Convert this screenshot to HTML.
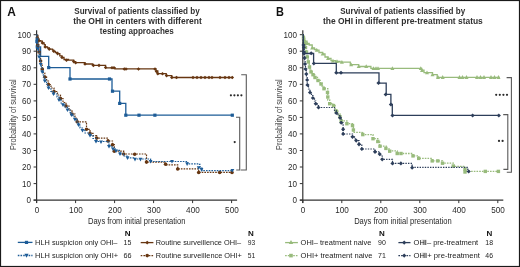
<!DOCTYPE html><html><head><meta charset="utf-8"><style>html,body{margin:0;padding:0;background:#fff;width:520px;height:267px;overflow:hidden}svg{display:block;font-family:"Liberation Sans",sans-serif;will-change:transform}</style></head><body>
<svg width="520" height="267" viewBox="0 0 520 267">
<rect x="0" y="0" width="520" height="267" fill="#fff"/>
<rect x="0.5" y="0.5" width="519" height="266" fill="none" stroke="#1a1a1a" stroke-width="1.2"/>
<text x="7.3" y="15.6" font-size="12.30" text-anchor="start" font-weight="bold" fill="#111" textLength="8.6" lengthAdjust="spacingAndGlyphs" >A</text>
<text x="276.0" y="15.7" font-size="12.30" text-anchor="start" font-weight="bold" fill="#111" textLength="7.9" lengthAdjust="spacingAndGlyphs" >B</text>
<text x="137.0" y="13.8" font-size="8.50" text-anchor="middle" font-weight="bold" fill="#303030" textLength="125.5" lengthAdjust="spacingAndGlyphs" >Survival of patients classified by</text>
<text x="137.5" y="23.8" font-size="8.50" text-anchor="middle" font-weight="bold" fill="#303030" textLength="128.5" lengthAdjust="spacingAndGlyphs" >the OHI in centers with different</text>
<text x="136.8" y="33.7" font-size="8.50" text-anchor="middle" font-weight="bold" fill="#303030" textLength="74.0" lengthAdjust="spacingAndGlyphs" >testing approaches</text>
<text x="402.7" y="13.9" font-size="8.50" text-anchor="middle" font-weight="bold" fill="#303030" textLength="125.0" lengthAdjust="spacingAndGlyphs" >Survival of patients classified by</text>
<text x="402.9" y="23.6" font-size="8.50" text-anchor="middle" font-weight="bold" fill="#303030" textLength="159.8" lengthAdjust="spacingAndGlyphs" >the OHI in different pre-treatment status</text>
<path d="M36.6 30.3 V203" stroke="#333333" stroke-width="1.2" fill="none"/>
<path d="M33.6 200.1 H237.1" stroke="#333333" stroke-width="1.25" fill="none"/>
<path d="M33.6 200.1 H36.6" stroke="#333333" stroke-width="1" fill="none"/>
<text x="31.0" y="203.2" font-size="9.00" text-anchor="end" font-weight="normal" fill="#2a2a2a" textLength="4.5" lengthAdjust="spacingAndGlyphs" >0</text>
<path d="M33.6 183.6 H36.6" stroke="#333333" stroke-width="1" fill="none"/>
<text x="31.0" y="186.7" font-size="9.00" text-anchor="end" font-weight="normal" fill="#2a2a2a" textLength="9.0" lengthAdjust="spacingAndGlyphs" >10</text>
<path d="M33.6 167.0 H36.6" stroke="#333333" stroke-width="1" fill="none"/>
<text x="31.0" y="170.1" font-size="9.00" text-anchor="end" font-weight="normal" fill="#2a2a2a" textLength="9.0" lengthAdjust="spacingAndGlyphs" >20</text>
<path d="M33.6 150.5 H36.6" stroke="#333333" stroke-width="1" fill="none"/>
<text x="31.0" y="153.6" font-size="9.00" text-anchor="end" font-weight="normal" fill="#2a2a2a" textLength="9.0" lengthAdjust="spacingAndGlyphs" >30</text>
<path d="M33.6 133.9 H36.6" stroke="#333333" stroke-width="1" fill="none"/>
<text x="31.0" y="137.0" font-size="9.00" text-anchor="end" font-weight="normal" fill="#2a2a2a" textLength="9.0" lengthAdjust="spacingAndGlyphs" >40</text>
<path d="M33.6 117.4 H36.6" stroke="#333333" stroke-width="1" fill="none"/>
<text x="31.0" y="120.5" font-size="9.00" text-anchor="end" font-weight="normal" fill="#2a2a2a" textLength="9.0" lengthAdjust="spacingAndGlyphs" >50</text>
<path d="M33.6 100.9 H36.6" stroke="#333333" stroke-width="1" fill="none"/>
<text x="31.0" y="104.0" font-size="9.00" text-anchor="end" font-weight="normal" fill="#2a2a2a" textLength="9.0" lengthAdjust="spacingAndGlyphs" >60</text>
<path d="M33.6 84.3 H36.6" stroke="#333333" stroke-width="1" fill="none"/>
<text x="31.0" y="87.4" font-size="9.00" text-anchor="end" font-weight="normal" fill="#2a2a2a" textLength="9.0" lengthAdjust="spacingAndGlyphs" >70</text>
<path d="M33.6 67.8 H36.6" stroke="#333333" stroke-width="1" fill="none"/>
<text x="31.0" y="70.9" font-size="9.00" text-anchor="end" font-weight="normal" fill="#2a2a2a" textLength="9.0" lengthAdjust="spacingAndGlyphs" >80</text>
<path d="M33.6 51.2 H36.6" stroke="#333333" stroke-width="1" fill="none"/>
<text x="31.0" y="54.3" font-size="9.00" text-anchor="end" font-weight="normal" fill="#2a2a2a" textLength="9.0" lengthAdjust="spacingAndGlyphs" >90</text>
<path d="M33.6 34.7 H36.6" stroke="#333333" stroke-width="1" fill="none"/>
<text x="31.0" y="37.8" font-size="9.00" text-anchor="end" font-weight="normal" fill="#2a2a2a" textLength="13.5" lengthAdjust="spacingAndGlyphs" >100</text>
<path d="M36.6 200.1 V203.1" stroke="#333333" stroke-width="1" fill="none"/>
<text x="36.9" y="212.7" font-size="9.30" text-anchor="middle" font-weight="normal" fill="#2a2a2a" textLength="4.5" lengthAdjust="spacingAndGlyphs" >0</text>
<path d="M75.6 200.1 V203.1" stroke="#333333" stroke-width="1" fill="none"/>
<text x="75.9" y="212.7" font-size="9.30" text-anchor="middle" font-weight="normal" fill="#2a2a2a" textLength="13.6" lengthAdjust="spacingAndGlyphs" >100</text>
<path d="M114.6 200.1 V203.1" stroke="#333333" stroke-width="1" fill="none"/>
<text x="114.9" y="212.7" font-size="9.30" text-anchor="middle" font-weight="normal" fill="#2a2a2a" textLength="13.6" lengthAdjust="spacingAndGlyphs" >200</text>
<path d="M153.6 200.1 V203.1" stroke="#333333" stroke-width="1" fill="none"/>
<text x="153.9" y="212.7" font-size="9.30" text-anchor="middle" font-weight="normal" fill="#2a2a2a" textLength="13.6" lengthAdjust="spacingAndGlyphs" >300</text>
<path d="M192.6 200.1 V203.1" stroke="#333333" stroke-width="1" fill="none"/>
<text x="192.9" y="212.7" font-size="9.30" text-anchor="middle" font-weight="normal" fill="#2a2a2a" textLength="13.6" lengthAdjust="spacingAndGlyphs" >400</text>
<path d="M231.6 200.1 V203.1" stroke="#333333" stroke-width="1" fill="none"/>
<text x="231.9" y="212.7" font-size="9.30" text-anchor="middle" font-weight="normal" fill="#2a2a2a" textLength="13.6" lengthAdjust="spacingAndGlyphs" >500</text>
<text x="0" y="0" font-size="9.8" text-anchor="middle" fill="#444" textLength="70.6" lengthAdjust="spacingAndGlyphs" transform="translate(16.4 114.6) rotate(-90)">Probability of survival</text>
<text x="136.7" y="224.2" font-size="9.40" text-anchor="middle" font-weight="normal" fill="#2a2a2a" textLength="97.5" lengthAdjust="spacingAndGlyphs" >Days from initial presentation</text>
<path d="M302.8 30.3 V203" stroke="#333333" stroke-width="1.2" fill="none"/>
<path d="M299.8 200.1 H503.3" stroke="#333333" stroke-width="1.25" fill="none"/>
<path d="M299.8 200.1 H302.8" stroke="#333333" stroke-width="1" fill="none"/>
<text x="297.1" y="203.2" font-size="9.00" text-anchor="end" font-weight="normal" fill="#2a2a2a" textLength="4.5" lengthAdjust="spacingAndGlyphs" >0</text>
<path d="M299.8 183.6 H302.8" stroke="#333333" stroke-width="1" fill="none"/>
<text x="297.1" y="186.7" font-size="9.00" text-anchor="end" font-weight="normal" fill="#2a2a2a" textLength="9.0" lengthAdjust="spacingAndGlyphs" >10</text>
<path d="M299.8 167.0 H302.8" stroke="#333333" stroke-width="1" fill="none"/>
<text x="297.1" y="170.1" font-size="9.00" text-anchor="end" font-weight="normal" fill="#2a2a2a" textLength="9.0" lengthAdjust="spacingAndGlyphs" >20</text>
<path d="M299.8 150.5 H302.8" stroke="#333333" stroke-width="1" fill="none"/>
<text x="297.1" y="153.6" font-size="9.00" text-anchor="end" font-weight="normal" fill="#2a2a2a" textLength="9.0" lengthAdjust="spacingAndGlyphs" >30</text>
<path d="M299.8 133.9 H302.8" stroke="#333333" stroke-width="1" fill="none"/>
<text x="297.1" y="137.0" font-size="9.00" text-anchor="end" font-weight="normal" fill="#2a2a2a" textLength="9.0" lengthAdjust="spacingAndGlyphs" >40</text>
<path d="M299.8 117.4 H302.8" stroke="#333333" stroke-width="1" fill="none"/>
<text x="297.1" y="120.5" font-size="9.00" text-anchor="end" font-weight="normal" fill="#2a2a2a" textLength="9.0" lengthAdjust="spacingAndGlyphs" >50</text>
<path d="M299.8 100.9 H302.8" stroke="#333333" stroke-width="1" fill="none"/>
<text x="297.1" y="104.0" font-size="9.00" text-anchor="end" font-weight="normal" fill="#2a2a2a" textLength="9.0" lengthAdjust="spacingAndGlyphs" >60</text>
<path d="M299.8 84.3 H302.8" stroke="#333333" stroke-width="1" fill="none"/>
<text x="297.1" y="87.4" font-size="9.00" text-anchor="end" font-weight="normal" fill="#2a2a2a" textLength="9.0" lengthAdjust="spacingAndGlyphs" >70</text>
<path d="M299.8 67.8 H302.8" stroke="#333333" stroke-width="1" fill="none"/>
<text x="297.1" y="70.9" font-size="9.00" text-anchor="end" font-weight="normal" fill="#2a2a2a" textLength="9.0" lengthAdjust="spacingAndGlyphs" >80</text>
<path d="M299.8 51.2 H302.8" stroke="#333333" stroke-width="1" fill="none"/>
<text x="297.1" y="54.3" font-size="9.00" text-anchor="end" font-weight="normal" fill="#2a2a2a" textLength="9.0" lengthAdjust="spacingAndGlyphs" >90</text>
<path d="M299.8 34.7 H302.8" stroke="#333333" stroke-width="1" fill="none"/>
<text x="297.1" y="37.8" font-size="9.00" text-anchor="end" font-weight="normal" fill="#2a2a2a" textLength="13.5" lengthAdjust="spacingAndGlyphs" >100</text>
<path d="M302.8 200.1 V203.1" stroke="#333333" stroke-width="1" fill="none"/>
<text x="303.1" y="212.7" font-size="9.30" text-anchor="middle" font-weight="normal" fill="#2a2a2a" textLength="4.5" lengthAdjust="spacingAndGlyphs" >0</text>
<path d="M341.8 200.1 V203.1" stroke="#333333" stroke-width="1" fill="none"/>
<text x="342.1" y="212.7" font-size="9.30" text-anchor="middle" font-weight="normal" fill="#2a2a2a" textLength="13.6" lengthAdjust="spacingAndGlyphs" >100</text>
<path d="M380.8 200.1 V203.1" stroke="#333333" stroke-width="1" fill="none"/>
<text x="381.1" y="212.7" font-size="9.30" text-anchor="middle" font-weight="normal" fill="#2a2a2a" textLength="13.6" lengthAdjust="spacingAndGlyphs" >200</text>
<path d="M419.8 200.1 V203.1" stroke="#333333" stroke-width="1" fill="none"/>
<text x="420.1" y="212.7" font-size="9.30" text-anchor="middle" font-weight="normal" fill="#2a2a2a" textLength="13.6" lengthAdjust="spacingAndGlyphs" >300</text>
<path d="M458.8 200.1 V203.1" stroke="#333333" stroke-width="1" fill="none"/>
<text x="459.1" y="212.7" font-size="9.30" text-anchor="middle" font-weight="normal" fill="#2a2a2a" textLength="13.6" lengthAdjust="spacingAndGlyphs" >400</text>
<path d="M497.8 200.1 V203.1" stroke="#333333" stroke-width="1" fill="none"/>
<text x="498.1" y="212.7" font-size="9.30" text-anchor="middle" font-weight="normal" fill="#2a2a2a" textLength="13.6" lengthAdjust="spacingAndGlyphs" >500</text>
<text x="0" y="0" font-size="9.8" text-anchor="middle" fill="#444" textLength="70.6" lengthAdjust="spacingAndGlyphs" transform="translate(282.4 114.6) rotate(-90)">Probability of survival</text>
<text x="402.9" y="224.2" font-size="9.40" text-anchor="middle" font-weight="normal" fill="#2a2a2a" textLength="97.5" lengthAdjust="spacingAndGlyphs" >Days from initial presentation</text>
<path d="M36.6 34.7 H36.6 V46.9 H40.6 V46.9 H40.6 V56.4 H48.7 V56.4 H48.7 V67.6 H70.0 V67.6 H70.0 V79.0 H112.0 V79.0 H112.0 V91.2 H119.7 V91.2 H119.7 V103.4 H125.8 V103.4 H125.8 V115.2 H232.3 V115.2" stroke="#1d5c97" stroke-width="1.3" fill="none"/>
<rect x="35.3" y="39.9" width="3.2" height="3.2" fill="#1d5c97"/>
<rect x="35.7" y="45.3" width="3.2" height="3.2" fill="#1d5c97"/>
<rect x="47.1" y="66.0" width="3.2" height="3.2" fill="#1d5c97"/>
<rect x="68.4" y="77.4" width="3.2" height="3.2" fill="#1d5c97"/>
<rect x="107.9" y="77.4" width="3.2" height="3.2" fill="#1d5c97"/>
<rect x="110.9" y="89.6" width="3.2" height="3.2" fill="#1d5c97"/>
<rect x="118.1" y="101.8" width="3.2" height="3.2" fill="#1d5c97"/>
<rect x="124.2" y="113.6" width="3.2" height="3.2" fill="#1d5c97"/>
<rect x="137.4" y="113.6" width="3.2" height="3.2" fill="#1d5c97"/>
<rect x="153.3" y="113.6" width="3.2" height="3.2" fill="#1d5c97"/>
<rect x="230.7" y="113.6" width="3.2" height="3.2" fill="#1d5c97"/>
<path d="M36.6 35.5 H37.9 V39.0 H39.0 V40.7 H40.7 V41.2 H42.4 V42.9 H44.1 V44.6 H45.2 V46.9 H47.5 V48.0 H49.2 V49.1 H52.5 V50.2 H53.7 V51.3 H55.3 V52.5 H57.6 V53.6 H59.8 V55.8 H62.0 V57.5 H64.0 V59.5 H68.5 V60.2 H73.7 V61.6 H75.6 V62.7 H85.0 V64.0 H92.5 V65.4 H104.6 V65.4 H105.6 V67.8 H115.0 V68.9 H155.0 V69.0 H155.9 V71.0 H157.8 V73.7 H166.2 V75.6 H171.8 V77.5 H232.3 V77.5" stroke="#673611" stroke-width="1.3" fill="none"/>
<path d="M35.4 37.5 L37.2 35.7 L39.0 37.5 L37.2 39.3 Z" fill="#673611"/>
<path d="M37.2 40.7 L39.0 38.9 L40.8 40.7 L39.0 42.5 Z" fill="#673611"/>
<path d="M40.6 42.9 L42.4 41.1 L44.2 42.9 L42.4 44.7 Z" fill="#673611"/>
<path d="M43.4 46.9 L45.2 45.1 L47.0 46.9 L45.2 48.7 Z" fill="#673611"/>
<path d="M47.4 49.1 L49.2 47.3 L51.0 49.1 L49.2 50.9 Z" fill="#673611"/>
<path d="M51.9 51.3 L53.7 49.5 L55.5 51.3 L53.7 53.1 Z" fill="#673611"/>
<path d="M55.8 53.6 L57.6 51.8 L59.4 53.6 L57.6 55.4 Z" fill="#673611"/>
<path d="M60.2 57.5 L62.0 55.7 L63.8 57.5 L62.0 59.3 Z" fill="#673611"/>
<path d="M64.7 60.2 L66.5 58.4 L68.3 60.2 L66.5 62.0 Z" fill="#673611"/>
<path d="M71.9 61.6 L73.7 59.8 L75.5 61.6 L73.7 63.4 Z" fill="#673611"/>
<path d="M73.8 62.7 L75.6 60.9 L77.4 62.7 L75.6 64.5 Z" fill="#673611"/>
<path d="M83.2 64.0 L85.0 62.2 L86.8 64.0 L85.0 65.8 Z" fill="#673611"/>
<path d="M91.6 65.4 L93.4 63.6 L95.2 65.4 L93.4 67.2 Z" fill="#673611"/>
<path d="M97.2 65.4 L99.0 63.6 L100.8 65.4 L99.0 67.2 Z" fill="#673611"/>
<path d="M103.8 67.5 L105.6 65.7 L107.4 67.5 L105.6 69.3 Z" fill="#673611"/>
<path d="M110.2 67.8 L112.0 66.0 L113.8 67.8 L112.0 69.6 Z" fill="#673611"/>
<path d="M112.2 67.8 L114.0 66.0 L115.8 67.8 L114.0 69.6 Z" fill="#673611"/>
<path d="M122.5 69.0 L124.3 67.2 L126.1 69.0 L124.3 70.8 Z" fill="#673611"/>
<path d="M124.2 69.0 L126.0 67.2 L127.8 69.0 L126.0 70.8 Z" fill="#673611"/>
<path d="M136.7 69.0 L138.5 67.2 L140.3 69.0 L138.5 70.8 Z" fill="#673611"/>
<path d="M153.2 69.0 L155.0 67.2 L156.8 69.0 L155.0 70.8 Z" fill="#673611"/>
<path d="M154.7 71.5 L156.5 69.7 L158.3 71.5 L156.5 73.3 Z" fill="#673611"/>
<path d="M156.0 73.7 L157.8 71.9 L159.6 73.7 L157.8 75.5 Z" fill="#673611"/>
<path d="M160.7 73.7 L162.5 71.9 L164.3 73.7 L162.5 75.5 Z" fill="#673611"/>
<path d="M164.8 75.6 L166.6 73.8 L168.4 75.6 L166.6 77.4 Z" fill="#673611"/>
<path d="M170.0 77.5 L171.8 75.7 L173.6 77.5 L171.8 79.3 Z" fill="#673611"/>
<path d="M174.7 77.5 L176.5 75.7 L178.3 77.5 L176.5 79.3 Z" fill="#673611"/>
<path d="M191.2 77.5 L193.0 75.7 L194.8 77.5 L193.0 79.3 Z" fill="#673611"/>
<path d="M195.2 77.5 L197.0 75.7 L198.8 77.5 L197.0 79.3 Z" fill="#673611"/>
<path d="M199.2 77.5 L201.0 75.7 L202.8 77.5 L201.0 79.3 Z" fill="#673611"/>
<path d="M203.2 77.5 L205.0 75.7 L206.8 77.5 L205.0 79.3 Z" fill="#673611"/>
<path d="M207.2 77.5 L209.0 75.7 L210.8 77.5 L209.0 79.3 Z" fill="#673611"/>
<path d="M210.2 77.5 L212.0 75.7 L213.8 77.5 L212.0 79.3 Z" fill="#673611"/>
<path d="M218.2 77.5 L220.0 75.7 L221.8 77.5 L220.0 79.3 Z" fill="#673611"/>
<path d="M223.2 77.5 L225.0 75.7 L226.8 77.5 L225.0 79.3 Z" fill="#673611"/>
<path d="M227.2 77.5 L229.0 75.7 L230.8 77.5 L229.0 79.3 Z" fill="#673611"/>
<path d="M230.5 77.5 L232.3 75.7 L234.1 77.5 L232.3 79.3 Z" fill="#673611"/>
<path d="M36.6 35.0 H37.2 V40.0 H37.8 V45.0 H38.5 V49.0 H39.0 V52.0 H39.8 V57.0 H40.6 V61.0 H41.3 V65.0 H42.2 V69.0 H43.3 V73.0 H44.8 V77.0 H46.6 V81.0 H48.5 V84.5 H51.0 V88.0 H54.0 V91.5 H57.5 V95.0 H60.5 V98.5 H63.0 V102.5 H66.0 V106.0 H69.0 V110.0 H72.0 V114.0 H75.0 V118.0 H77.2 V121.8 H86.5 V121.8 H86.5 V129.3 H90.0 V133.4 H93.0 V135.7 H96.6 V138.1 H107.8 V138.1 H108.0 V141.0 H112.5 V144.7 H114.3 V151.2 H123.7 V154.0 H146.5 V154.6 H146.5 V162.1 H165.6 V162.1 H165.6 V164.9 H177.7 V164.9 H177.7 V168.8 H198.7 V168.8 H198.7 V172.3 H232.4 V172.3" stroke="#673611" stroke-width="1.2" fill="none" stroke-dasharray="1.6 1.1"/>
<circle cx="37.8" cy="45.0" r="1.8" fill="#673611"/>
<circle cx="39.0" cy="52.0" r="1.8" fill="#673611"/>
<circle cx="40.6" cy="61.0" r="1.8" fill="#673611"/>
<circle cx="42.2" cy="69.0" r="1.8" fill="#673611"/>
<circle cx="44.8" cy="77.0" r="1.8" fill="#673611"/>
<circle cx="48.5" cy="84.5" r="1.8" fill="#673611"/>
<circle cx="54.0" cy="91.5" r="1.8" fill="#673611"/>
<circle cx="60.5" cy="98.5" r="1.8" fill="#673611"/>
<circle cx="66.0" cy="106.0" r="1.8" fill="#673611"/>
<circle cx="72.0" cy="114.0" r="1.8" fill="#673611"/>
<circle cx="77.2" cy="121.8" r="1.8" fill="#673611"/>
<circle cx="86.5" cy="129.3" r="1.8" fill="#673611"/>
<circle cx="90.0" cy="133.4" r="1.8" fill="#673611"/>
<circle cx="96.6" cy="138.1" r="1.8" fill="#673611"/>
<circle cx="108.0" cy="141.0" r="1.8" fill="#673611"/>
<circle cx="112.5" cy="144.7" r="1.8" fill="#673611"/>
<circle cx="114.3" cy="151.2" r="1.8" fill="#673611"/>
<circle cx="123.7" cy="154.0" r="1.8" fill="#673611"/>
<circle cx="134.7" cy="154.3" r="1.8" fill="#673611"/>
<circle cx="146.5" cy="162.1" r="1.8" fill="#673611"/>
<circle cx="165.6" cy="164.3" r="1.8" fill="#673611"/>
<circle cx="177.7" cy="169.0" r="1.8" fill="#673611"/>
<circle cx="198.7" cy="172.5" r="1.8" fill="#673611"/>
<circle cx="219.7" cy="172.5" r="1.8" fill="#673611"/>
<circle cx="232.0" cy="172.5" r="1.8" fill="#673611"/>
<path d="M36.6 35.0 H37.0 V40.0 H37.5 V45.0 H38.0 V49.0 H38.5 V52.0 H39.2 V57.0 H40.0 V61.0 H40.7 V64.5 H41.3 V68.0 H42.2 V72.0 H43.3 V77.0 H44.8 V81.0 H46.6 V84.5 H48.5 V88.0 H50.9 V91.3 H53.5 V94.0 H57.0 V97.0 H59.0 V100.0 H61.0 V103.0 H63.0 V105.0 H65.0 V107.0 H67.5 V110.0 H70.0 V112.5 H71.5 V115.0 H73.0 V117.0 H75.0 V119.5 H77.0 V122.0 H78.5 V125.0 H80.0 V128.0 H82.5 V130.5 H85.0 V133.0 H90.0 V135.5 H93.0 V138.5 H96.0 V141.5 H107.0 V142.0 H109.0 V146.5 H112.0 V148.5 H115.0 V150.3 H120.0 V154.0 H123.5 V156.0 H127.0 V157.8 H135.0 V159.0 H146.0 V159.0 H150.6 V161.5 H186.0 V161.5 H187.5 V163.8 H198.7 V164.3 H200.0 V168.0 H202.0 V170.7 H232.4 V170.7" stroke="#1d5c97" stroke-width="1.2" fill="none" stroke-dasharray="1.6 1.1"/>
<path d="M35.0 38.4 L39.0 38.4 L37.0 42.1 Z" fill="#1d5c97"/>
<path d="M36.0 47.4 L40.0 47.4 L38.0 51.1 Z" fill="#1d5c97"/>
<path d="M37.2 55.4 L41.2 55.4 L39.2 59.1 Z" fill="#1d5c97"/>
<path d="M38.8 62.9 L42.7 62.9 L40.7 66.6 Z" fill="#1d5c97"/>
<path d="M40.2 70.4 L44.2 70.4 L42.2 74.1 Z" fill="#1d5c97"/>
<path d="M42.8 79.4 L46.8 79.4 L44.8 83.1 Z" fill="#1d5c97"/>
<path d="M46.5 86.4 L50.5 86.4 L48.5 90.1 Z" fill="#1d5c97"/>
<path d="M51.5 92.4 L55.5 92.4 L53.5 96.1 Z" fill="#1d5c97"/>
<path d="M57.0 98.4 L61.0 98.4 L59.0 102.1 Z" fill="#1d5c97"/>
<path d="M61.0 103.4 L65.0 103.4 L63.0 107.1 Z" fill="#1d5c97"/>
<path d="M65.5 108.4 L69.5 108.4 L67.5 112.1 Z" fill="#1d5c97"/>
<path d="M69.5 113.4 L73.5 113.4 L71.5 117.1 Z" fill="#1d5c97"/>
<path d="M73.0 117.9 L77.0 117.9 L75.0 121.6 Z" fill="#1d5c97"/>
<path d="M76.5 123.4 L80.5 123.4 L78.5 127.1 Z" fill="#1d5c97"/>
<path d="M80.5 128.9 L84.5 128.9 L82.5 132.6 Z" fill="#1d5c97"/>
<path d="M88.0 133.9 L92.0 133.9 L90.0 137.6 Z" fill="#1d5c97"/>
<path d="M94.0 139.9 L98.0 139.9 L96.0 143.6 Z" fill="#1d5c97"/>
<path d="M99.0 140.4 L103.0 140.4 L101.0 144.1 Z" fill="#1d5c97"/>
<path d="M107.0 144.9 L111.0 144.9 L109.0 148.6 Z" fill="#1d5c97"/>
<path d="M111.0 147.4 L115.0 147.4 L113.0 151.1 Z" fill="#1d5c97"/>
<path d="M114.0 149.4 L118.0 149.4 L116.0 153.1 Z" fill="#1d5c97"/>
<path d="M118.0 152.4 L122.0 152.4 L120.0 156.1 Z" fill="#1d5c97"/>
<path d="M125.5 156.2 L129.4 156.2 L127.5 159.9 Z" fill="#1d5c97"/>
<path d="M133.1 157.7 L136.9 157.7 L135.0 161.4 Z" fill="#1d5c97"/>
<path d="M138.6 157.7 L142.4 157.7 L140.5 161.4 Z" fill="#1d5c97"/>
<path d="M148.7 159.9 L152.5 159.9 L150.6 163.6 Z" fill="#1d5c97"/>
<path d="M170.1 159.9 L173.9 159.9 L172.0 163.6 Z" fill="#1d5c97"/>
<path d="M185.2 162.2 L189.0 162.2 L187.1 165.9 Z" fill="#1d5c97"/>
<path d="M196.8 166.2 L200.6 166.2 L198.7 169.9 Z" fill="#1d5c97"/>
<path d="M199.6 168.1 L203.4 168.1 L201.5 171.8 Z" fill="#1d5c97"/>
<path d="M230.5 168.9 L234.3 168.9 L232.4 172.6 Z" fill="#1d5c97"/>
<path d="M241.2 74.7 H246.3 V170 H240.7" stroke="#5a5a5a" stroke-width="1.1" fill="none"/>
<path d="M236.0 117.3 H239.7 V170 H236.2" stroke="#5a5a5a" stroke-width="1.1" fill="none"/>
<circle cx="230.9" cy="95.3" r="1.1" fill="#2a2a2a"/>
<circle cx="234.4" cy="95.3" r="1.1" fill="#2a2a2a"/>
<circle cx="237.9" cy="95.3" r="1.1" fill="#2a2a2a"/>
<circle cx="241.4" cy="95.3" r="1.1" fill="#2a2a2a"/>
<circle cx="234.7" cy="142.1" r="1.1" fill="#2a2a2a"/>
<path d="M302.8 34.6 H303.2 V36.0 H304.0 V38.5 H304.7 V41.2 H307.0 V43.5 H309.2 V45.0 H312.2 V48.0 H314.5 V49.5 H316.7 V50.2 H319.0 V52.5 H322.7 V54.0 H325.0 V57.0 H328.0 V58.5 H331.0 V60.7 H335.5 V61.5 H340.0 V62.2 H350.3 V62.2 H350.3 V64.6 H358.7 V64.6 H358.7 V66.5 H370.9 V66.5 H370.9 V68.4 H420.6 V68.4 H421.7 V70.1 H424.0 V72.6 H432.5 V72.6 H432.5 V74.7 H437.2 V74.7 H437.2 V77.3 H499.8 V77.3" stroke="#98bb7c" stroke-width="1.3" fill="none"/>
<path d="M302.2 41.6 L306.2 41.6 L304.2 37.8 Z" fill="#98bb7c"/>
<path d="M305.0 45.1 L309.0 45.1 L307.0 41.3 Z" fill="#98bb7c"/>
<path d="M310.2 49.6 L314.2 49.6 L312.2 45.8 Z" fill="#98bb7c"/>
<path d="M314.7 51.8 L318.7 51.8 L316.7 48.0 Z" fill="#98bb7c"/>
<path d="M320.7 55.6 L324.7 55.6 L322.7 51.8 Z" fill="#98bb7c"/>
<path d="M326.0 60.1 L330.0 60.1 L328.0 56.3 Z" fill="#98bb7c"/>
<path d="M331.0 62.6 L335.0 62.6 L333.0 58.8 Z" fill="#98bb7c"/>
<path d="M335.0 63.1 L339.0 63.1 L337.0 59.3 Z" fill="#98bb7c"/>
<path d="M339.9 63.8 L343.9 63.8 L341.9 60.0 Z" fill="#98bb7c"/>
<path d="M349.2 66.2 L353.2 66.2 L351.2 62.4 Z" fill="#98bb7c"/>
<path d="M356.7 68.1 L360.7 68.1 L358.7 64.3 Z" fill="#98bb7c"/>
<path d="M364.2 68.1 L368.2 68.1 L366.2 64.3 Z" fill="#98bb7c"/>
<path d="M371.5 70.0 L375.5 70.0 L373.5 66.2 Z" fill="#98bb7c"/>
<path d="M374.0 70.0 L378.0 70.0 L376.0 66.2 Z" fill="#98bb7c"/>
<path d="M376.0 70.0 L380.0 70.0 L378.0 66.2 Z" fill="#98bb7c"/>
<path d="M390.4 70.0 L394.4 70.0 L392.4 66.2 Z" fill="#98bb7c"/>
<path d="M418.8 70.0 L422.8 70.0 L420.8 66.2 Z" fill="#98bb7c"/>
<path d="M420.0 72.1 L424.0 72.1 L422.0 68.3 Z" fill="#98bb7c"/>
<path d="M425.0 74.2 L429.0 74.2 L427.0 70.4 Z" fill="#98bb7c"/>
<path d="M430.5 76.3 L434.5 76.3 L432.5 72.5 Z" fill="#98bb7c"/>
<path d="M436.0 78.9 L440.0 78.9 L438.0 75.1 Z" fill="#98bb7c"/>
<path d="M440.7 78.9 L444.7 78.9 L442.7 75.1 Z" fill="#98bb7c"/>
<path d="M457.5 78.9 L461.5 78.9 L459.5 75.1 Z" fill="#98bb7c"/>
<path d="M460.5 78.9 L464.5 78.9 L462.5 75.1 Z" fill="#98bb7c"/>
<path d="M464.5 78.9 L468.5 78.9 L466.5 75.1 Z" fill="#98bb7c"/>
<path d="M475.0 78.9 L479.0 78.9 L477.0 75.1 Z" fill="#98bb7c"/>
<path d="M478.5 78.9 L482.5 78.9 L480.5 75.1 Z" fill="#98bb7c"/>
<path d="M482.0 78.9 L486.0 78.9 L484.0 75.1 Z" fill="#98bb7c"/>
<path d="M489.0 78.9 L493.0 78.9 L491.0 75.1 Z" fill="#98bb7c"/>
<path d="M492.5 78.9 L496.5 78.9 L494.5 75.1 Z" fill="#98bb7c"/>
<path d="M496.5 78.9 L500.5 78.9 L498.5 75.1 Z" fill="#98bb7c"/>
<path d="M302.8 34.6 H303.2 V36.7 H304.0 V41.0 H305.0 V45.0 H305.5 V46.5 H306.2 V51.0 H307.0 V55.5 H308.0 V60.5 H309.2 V66.0 H310.0 V69.0 H311.0 V71.9 H313.0 V74.7 H314.7 V77.5 H317.5 V80.3 H320.3 V83.1 H322.0 V86.0 H324.0 V88.7 H327.8 V88.7 H327.8 V100.0 H329.7 V103.7 H333.5 V105.6 H335.0 V108.5 H336.3 V111.2 H338.0 V114.0 H340.0 V116.8 H341.2 V120.9 H346.9 V123.7 H352.5 V125.6 H353.4 V132.4 H361.8 V132.7 H362.8 V134.6 H371.2 V134.6 H373.0 V138.7 H377.8 V141.5 H379.6 V146.2 H386.2 V149.0 H390.0 V150.9 H397.2 V153.5 H411.2 V153.5 H413.0 V155.9 H418.7 V158.3 H431.2 V158.3 H432.2 V160.9 H442.5 V160.9 H442.5 V163.2 H452.8 V163.2 H453.3 V166.3 H464.0 V166.3 H465.0 V169.3 H465.0 V171.4 H498.4 V171.4" stroke="#98bb7c" stroke-width="1.3" fill="none" stroke-dasharray="1.6 1.1"/>
<rect x="301.8" y="36.3" width="3.4" height="3.4" fill="#98bb7c"/>
<rect x="302.8" y="41.3" width="3.4" height="3.4" fill="#98bb7c"/>
<rect x="303.8" y="45.8" width="3.4" height="3.4" fill="#98bb7c"/>
<rect x="304.8" y="50.3" width="3.4" height="3.4" fill="#98bb7c"/>
<rect x="305.6" y="55.3" width="3.4" height="3.4" fill="#98bb7c"/>
<rect x="306.6" y="60.3" width="3.4" height="3.4" fill="#98bb7c"/>
<rect x="307.8" y="65.3" width="3.4" height="3.4" fill="#98bb7c"/>
<rect x="309.3" y="70.2" width="3.4" height="3.4" fill="#98bb7c"/>
<rect x="311.3" y="73.0" width="3.4" height="3.4" fill="#98bb7c"/>
<rect x="313.3" y="75.8" width="3.4" height="3.4" fill="#98bb7c"/>
<rect x="316.3" y="78.8" width="3.4" height="3.4" fill="#98bb7c"/>
<rect x="319.3" y="82.3" width="3.4" height="3.4" fill="#98bb7c"/>
<rect x="322.3" y="87.0" width="3.4" height="3.4" fill="#98bb7c"/>
<rect x="325.8" y="90.8" width="3.4" height="3.4" fill="#98bb7c"/>
<rect x="326.1" y="95.3" width="3.4" height="3.4" fill="#98bb7c"/>
<rect x="328.0" y="102.0" width="3.4" height="3.4" fill="#98bb7c"/>
<rect x="331.8" y="103.9" width="3.4" height="3.4" fill="#98bb7c"/>
<rect x="334.6" y="109.5" width="3.4" height="3.4" fill="#98bb7c"/>
<rect x="338.3" y="115.1" width="3.4" height="3.4" fill="#98bb7c"/>
<rect x="339.5" y="119.2" width="3.4" height="3.4" fill="#98bb7c"/>
<rect x="345.2" y="122.0" width="3.4" height="3.4" fill="#98bb7c"/>
<rect x="350.8" y="123.9" width="3.4" height="3.4" fill="#98bb7c"/>
<rect x="351.7" y="128.3" width="3.4" height="3.4" fill="#98bb7c"/>
<rect x="361.1" y="132.9" width="3.4" height="3.4" fill="#98bb7c"/>
<rect x="371.3" y="137.0" width="3.4" height="3.4" fill="#98bb7c"/>
<rect x="376.1" y="139.8" width="3.4" height="3.4" fill="#98bb7c"/>
<rect x="378.3" y="144.5" width="3.4" height="3.4" fill="#98bb7c"/>
<rect x="384.2" y="146.7" width="3.4" height="3.4" fill="#98bb7c"/>
<rect x="388.0" y="149.5" width="3.4" height="3.4" fill="#98bb7c"/>
<rect x="395.5" y="151.8" width="3.4" height="3.4" fill="#98bb7c"/>
<rect x="399.3" y="151.8" width="3.4" height="3.4" fill="#98bb7c"/>
<rect x="411.3" y="154.2" width="3.4" height="3.4" fill="#98bb7c"/>
<rect x="417.0" y="156.7" width="3.4" height="3.4" fill="#98bb7c"/>
<rect x="430.5" y="159.2" width="3.4" height="3.4" fill="#98bb7c"/>
<rect x="436.1" y="159.2" width="3.4" height="3.4" fill="#98bb7c"/>
<rect x="440.8" y="161.5" width="3.4" height="3.4" fill="#98bb7c"/>
<rect x="451.6" y="164.3" width="3.4" height="3.4" fill="#98bb7c"/>
<rect x="463.3" y="167.6" width="3.4" height="3.4" fill="#98bb7c"/>
<rect x="463.3" y="170.3" width="3.4" height="3.4" fill="#98bb7c"/>
<rect x="483.6" y="169.7" width="3.4" height="3.4" fill="#98bb7c"/>
<rect x="496.7" y="169.7" width="3.4" height="3.4" fill="#98bb7c"/>
<path d="M302.8 34.6 H303.3 V34.6 H303.3 V53.5 H313.6 V53.5 H313.6 V63.4 H336.3 V63.4 H336.3 V72.8 H379.0 V72.8 H379.0 V83.1 H386.2 V83.1 H386.2 V94.4 H390.9 V94.4 H390.9 V104.5 H392.3 V104.5 H392.3 V115.4 H498.8 V115.4" stroke="#2d3e5a" stroke-width="1.3" fill="none"/>
<path d="M301.8 47.5 L303.8 45.5 L305.9 47.5 L303.8 49.5 Z" fill="#2d3e5a"/>
<path d="M301.9 53.5 L304.0 51.5 L306.1 53.5 L304.0 55.5 Z" fill="#2d3e5a"/>
<path d="M309.1 53.3 L311.2 51.2 L313.2 53.3 L311.2 55.3 Z" fill="#2d3e5a"/>
<path d="M311.8 63.4 L313.8 61.4 L315.9 63.4 L313.8 65.5 Z" fill="#2d3e5a"/>
<path d="M334.2 72.8 L336.3 70.8 L338.4 72.8 L336.3 74.8 Z" fill="#2d3e5a"/>
<path d="M338.9 72.8 L341.0 70.8 L343.1 72.8 L341.0 74.8 Z" fill="#2d3e5a"/>
<path d="M376.4 83.1 L378.5 81.0 L380.6 83.1 L378.5 85.1 Z" fill="#2d3e5a"/>
<path d="M383.6 94.4 L385.7 92.4 L387.8 94.4 L385.7 96.5 Z" fill="#2d3e5a"/>
<path d="M388.8 104.5 L390.9 102.5 L392.9 104.5 L390.9 106.5 Z" fill="#2d3e5a"/>
<path d="M390.4 115.4 L392.5 113.4 L394.6 115.4 L392.5 117.5 Z" fill="#2d3e5a"/>
<path d="M470.6 115.4 L472.6 113.4 L474.7 115.4 L472.6 117.5 Z" fill="#2d3e5a"/>
<path d="M496.8 115.4 L498.8 113.4 L500.9 115.4 L498.8 117.5 Z" fill="#2d3e5a"/>
<path d="M302.8 34.6 H303.2 V40.0 H303.5 V45.0 H304.0 V49.5 H304.3 V55.0 H304.7 V60.0 H305.1 V65.0 H305.5 V69.0 H306.3 V72.0 H306.5 V76.0 H307.2 V85.0 H308.5 V89.0 H310.0 V92.5 H311.5 V95.5 H312.9 V98.1 H314.5 V101.0 H315.7 V103.7 H317.0 V105.5 H318.5 V107.5 H332.5 V107.5 H334.5 V110.5 H336.3 V113.0 H338.0 V115.5 H340.0 V117.8 H341.2 V122.8 H343.1 V129.3 H343.1 V134.0 H351.5 V134.0 H352.5 V136.8 H354.5 V138.8 H356.2 V140.6 H359.0 V144.3 H361.8 V149.0 H374.0 V149.0 H375.0 V151.8 H379.6 V154.1 H380.3 V155.0 H382.2 V159.3 H392.5 V159.3 H392.5 V163.4 H412.1 V163.4 H412.1 V167.4 H467.8 V167.4 H467.8 V170.3 H468.7 V171.5" stroke="#2d3e5a" stroke-width="1.2" fill="none" stroke-dasharray="1.4 1.2"/>
<path d="M301.4 45.0 L303.5 43.0 L305.6 45.0 L303.5 47.0 Z" fill="#2d3e5a"/>
<path d="M301.9 52.0 L304.0 50.0 L306.1 52.0 L304.0 54.0 Z" fill="#2d3e5a"/>
<path d="M302.4 58.0 L304.5 56.0 L306.6 58.0 L304.5 60.0 Z" fill="#2d3e5a"/>
<path d="M302.9 64.0 L305.0 62.0 L307.1 64.0 L305.0 66.0 Z" fill="#2d3e5a"/>
<path d="M303.4 69.0 L305.5 67.0 L307.6 69.0 L305.5 71.0 Z" fill="#2d3e5a"/>
<path d="M304.2 74.0 L306.3 72.0 L308.4 74.0 L306.3 76.0 Z" fill="#2d3e5a"/>
<path d="M305.1 80.0 L307.2 78.0 L309.2 80.0 L307.2 82.0 Z" fill="#2d3e5a"/>
<path d="M305.4 85.0 L307.5 83.0 L309.6 85.0 L307.5 87.0 Z" fill="#2d3e5a"/>
<path d="M307.9 92.5 L310.0 90.5 L312.1 92.5 L310.0 94.5 Z" fill="#2d3e5a"/>
<path d="M310.8 98.1 L312.9 96.0 L314.9 98.1 L312.9 100.1 Z" fill="#2d3e5a"/>
<path d="M313.6 103.7 L315.7 101.7 L317.8 103.7 L315.7 105.8 Z" fill="#2d3e5a"/>
<path d="M316.4 107.5 L318.5 105.5 L320.6 107.5 L318.5 109.5 Z" fill="#2d3e5a"/>
<path d="M334.2 113.0 L336.3 111.0 L338.4 113.0 L336.3 115.0 Z" fill="#2d3e5a"/>
<path d="M337.9 117.8 L340.0 115.8 L342.1 117.8 L340.0 119.8 Z" fill="#2d3e5a"/>
<path d="M339.1 122.8 L341.2 120.8 L343.2 122.8 L341.2 124.8 Z" fill="#2d3e5a"/>
<path d="M341.1 129.3 L343.1 127.3 L345.2 129.3 L343.1 131.4 Z" fill="#2d3e5a"/>
<path d="M341.1 134.0 L343.1 131.9 L345.2 134.0 L343.1 136.1 Z" fill="#2d3e5a"/>
<path d="M350.4 136.8 L352.5 134.8 L354.6 136.8 L352.5 138.9 Z" fill="#2d3e5a"/>
<path d="M354.1 140.6 L356.2 138.5 L358.2 140.6 L356.2 142.7 Z" fill="#2d3e5a"/>
<path d="M356.9 144.3 L359.0 142.2 L361.1 144.3 L359.0 146.4 Z" fill="#2d3e5a"/>
<path d="M359.8 149.0 L361.8 146.9 L363.9 149.0 L361.8 151.1 Z" fill="#2d3e5a"/>
<path d="M372.9 151.8 L375.0 149.8 L377.1 151.8 L375.0 153.9 Z" fill="#2d3e5a"/>
<path d="M377.6 154.1 L379.6 152.0 L381.7 154.1 L379.6 156.2 Z" fill="#2d3e5a"/>
<path d="M380.1 159.3 L382.2 157.2 L384.2 159.3 L382.2 161.4 Z" fill="#2d3e5a"/>
<path d="M390.4 163.4 L392.5 161.3 L394.6 163.4 L392.5 165.5 Z" fill="#2d3e5a"/>
<path d="M398.8 163.4 L400.9 161.3 L402.9 163.4 L400.9 165.5 Z" fill="#2d3e5a"/>
<path d="M410.1 167.7 L412.1 165.6 L414.2 167.7 L412.1 169.8 Z" fill="#2d3e5a"/>
<path d="M466.6 171.5 L468.7 169.4 L470.8 171.5 L468.7 173.6 Z" fill="#2d3e5a"/>
<path d="M506.6 77.6 H511.4 V172.2 H506.8" stroke="#5a5a5a" stroke-width="1.1" fill="none"/>
<path d="M503.2 114.6 H507.8 V169.4 H503.4" stroke="#5a5a5a" stroke-width="1.1" fill="none"/>
<circle cx="496.2" cy="94.8" r="1.1" fill="#2a2a2a"/>
<circle cx="499.8" cy="94.8" r="1.1" fill="#2a2a2a"/>
<circle cx="503.4" cy="94.8" r="1.1" fill="#2a2a2a"/>
<circle cx="507.0" cy="94.8" r="1.1" fill="#2a2a2a"/>
<circle cx="499.0" cy="140.9" r="1.1" fill="#2a2a2a"/>
<circle cx="502.6" cy="140.9" r="1.1" fill="#2a2a2a"/>
<text x="127.7" y="235.7" font-size="8.00" text-anchor="middle" font-weight="bold" fill="#111" >N</text>
<text x="250.9" y="235.7" font-size="8.00" text-anchor="middle" font-weight="bold" fill="#111" >N</text>
<path d="M17.8 242.4 H32.5" stroke="#1d5c97" stroke-width="1.3" fill="none"/>
<rect x="24.9" y="240.8" width="3.2" height="3.2" fill="#1d5c97"/>
<path d="M17.8 255.5 H32.5" stroke="#1d5c97" stroke-width="1.3" fill="none" stroke-dasharray="1.6 1.1"/>
<path d="M24.4 253.7 L28.6 253.7 L26.5 257.7 Z" fill="#1d5c97"/>
<text x="35.1" y="245.1" font-size="7.40" text-anchor="start" font-weight="normal" fill="#222222" textLength="82.3" lengthAdjust="spacingAndGlyphs" >HLH suspicion only OHI–</text>
<text x="35.1" y="258.1" font-size="7.40" text-anchor="start" font-weight="normal" fill="#222222" textLength="83.0" lengthAdjust="spacingAndGlyphs" >HLH suspicion only OHI+</text>
<text x="123.5" y="245.1" font-size="7.40" text-anchor="start" font-weight="normal" fill="#222222" textLength="7.8" lengthAdjust="spacingAndGlyphs" >15</text>
<text x="123.5" y="258.1" font-size="7.40" text-anchor="start" font-weight="normal" fill="#222222" textLength="8.1" lengthAdjust="spacingAndGlyphs" >66</text>
<path d="M140.7 242.6 H153.4" stroke="#673611" stroke-width="1.3" fill="none"/>
<path d="M145.3 242.6 L147.2 240.7 L149.1 242.6 L147.2 244.5 Z" fill="#673611"/>
<path d="M140.7 255.6 H153.4" stroke="#673611" stroke-width="1.3" fill="none" stroke-dasharray="1.6 1.1"/>
<circle cx="147.2" cy="255.6" r="1.8" fill="#673611"/>
<text x="155.8" y="245.1" font-size="7.40" text-anchor="start" font-weight="normal" fill="#222222" textLength="85.3" lengthAdjust="spacingAndGlyphs" >Routine surveillence OHI–</text>
<text x="155.8" y="258.1" font-size="7.40" text-anchor="start" font-weight="normal" fill="#222222" textLength="86.0" lengthAdjust="spacingAndGlyphs" >Routine surveillence OHI+</text>
<text x="247.8" y="245.1" font-size="7.40" text-anchor="start" font-weight="normal" fill="#222222" textLength="7.5" lengthAdjust="spacingAndGlyphs" >93</text>
<text x="247.8" y="258.1" font-size="7.40" text-anchor="start" font-weight="normal" fill="#222222" textLength="7.5" lengthAdjust="spacingAndGlyphs" >51</text>
<text x="381.9" y="235.7" font-size="8.00" text-anchor="middle" font-weight="bold" fill="#111" >N</text>
<text x="489.4" y="235.7" font-size="8.00" text-anchor="middle" font-weight="bold" fill="#111" >N</text>
<path d="M285.1 242.6 H297.9" stroke="#98bb7c" stroke-width="1.3" fill="none"/>
<path d="M288.8 244.1 L293.2 244.1 L291.0 239.9 Z" fill="#98bb7c"/>
<path d="M285.1 255.6 H297.9" stroke="#98bb7c" stroke-width="1.3" fill="none" stroke-dasharray="1.6 1.1"/>
<rect x="289.2" y="253.8" width="3.6" height="3.6" fill="#98bb7c"/>
<text x="300.6" y="245.1" font-size="7.40" text-anchor="start" font-weight="normal" fill="#222222" textLength="70.8" lengthAdjust="spacingAndGlyphs" >OHI– treatment naive</text>
<text x="300.6" y="258.1" font-size="7.40" text-anchor="start" font-weight="normal" fill="#222222" textLength="71.9" lengthAdjust="spacingAndGlyphs" >OHI+ treatment naive</text>
<text x="378.1" y="245.1" font-size="7.40" text-anchor="start" font-weight="normal" fill="#222222" textLength="7.8" lengthAdjust="spacingAndGlyphs" >90</text>
<text x="378.1" y="258.1" font-size="7.40" text-anchor="start" font-weight="normal" fill="#222222" textLength="7.8" lengthAdjust="spacingAndGlyphs" >71</text>
<path d="M398.4 242.6 H410.5" stroke="#2d3e5a" stroke-width="1.3" fill="none"/>
<path d="M402.1 242.6 L404.2 240.5 L406.3 242.6 L404.2 244.7 Z" fill="#2d3e5a"/>
<path d="M398.4 255.6 H410.5" stroke="#2d3e5a" stroke-width="1.3" fill="none" stroke-dasharray="1.6 1.1"/>
<path d="M402.1 255.6 L404.2 253.5 L406.3 255.6 L404.2 257.7 Z" fill="#2d3e5a"/>
<rect x="421.6" y="239.6" width="4.8" height="5.4" fill="#d4d4d4"/>
<rect x="421.6" y="252.6" width="4.8" height="5.4" fill="#d4d4d4"/>
<text x="413.6" y="245.1" font-size="7.40" text-anchor="start" font-weight="normal" fill="#222222" textLength="64.6" lengthAdjust="spacingAndGlyphs" >OHI– pre-treatment</text>
<text x="413.6" y="258.1" font-size="7.40" text-anchor="start" font-weight="normal" fill="#222222" textLength="66.3" lengthAdjust="spacingAndGlyphs" >OHI+ pre-treatment</text>
<text x="485.3" y="245.1" font-size="7.40" text-anchor="start" font-weight="normal" fill="#222222" textLength="7.7" lengthAdjust="spacingAndGlyphs" >18</text>
<text x="485.3" y="258.1" font-size="7.40" text-anchor="start" font-weight="normal" fill="#222222" textLength="7.7" lengthAdjust="spacingAndGlyphs" >46</text>
</svg></body></html>
